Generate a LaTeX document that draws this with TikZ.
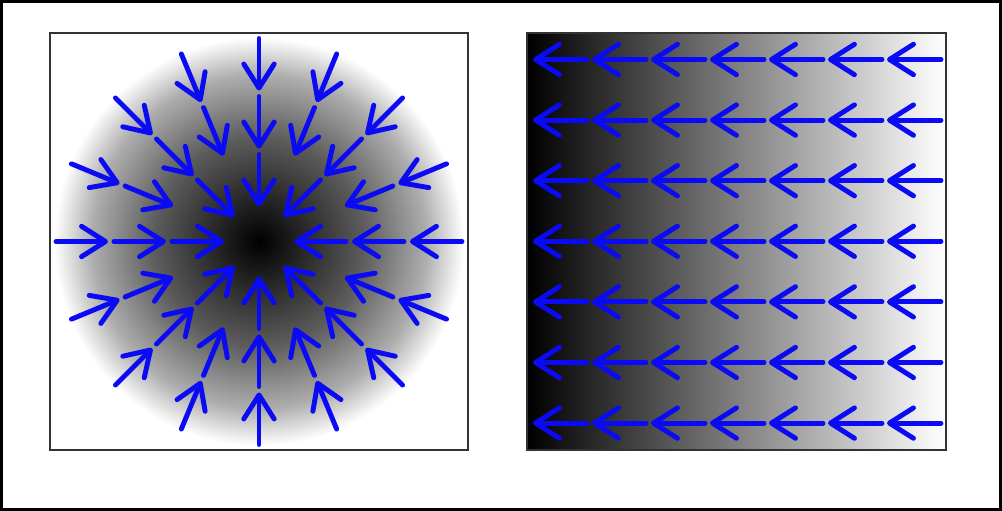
\documentclass[tikz,border=0pt]{standalone}
\usetikzlibrary{arrows.meta,calc}
\definecolor{fieldblue}{RGB}{10,10,245}
\pgfdeclareradialshading{sinkshade}{\pgfpoint{0bp}{0bp}}{color(0bp)=(black); color(12.5bp)=(black!64); color(20bp)=(black!32); color(24.5bp)=(white); color(50bp)=(white)}
\begin{document}
\begin{tikzpicture}[
  x=0.025cm, y=-0.025cm,
  panel/.style={draw=black!80, line width=1.7pt},
  vec/.style={fieldblue, line width=3.5pt, line cap=round,
    -{Straight Barb[round, length=0.6cm, width=0.76cm]}}
]
\useasboundingbox (0,0) rectangle (1002,511);
\draw[line width=1.5pt] (1.5,1.5) rectangle (1000.5,509.5);

%% left panel: sink with radial field
\shade[shading=sinkshade] (50,33) rectangle (468,450);
\draw[panel] (50,33) rectangle (468,450);
\coordinate (sink) at (259,241.5);

\foreach \a in {0,45,...,315}
  \foreach \r in {203,145,87}
    \draw[vec] ($(sink)+(\a:\r)$) -- ($(sink)+(\a:\r-52)$);
\foreach \a in {22.5,67.5,...,337.5}
  \foreach \r in {203,145}
    \draw[vec] ($(sink)+(\a:\r)$) -- ($(sink)+(\a:\r-52)$);

%% right panel: uniform field to the left
\shade[left color=black, right color=white] (527,33) rectangle (946,450);
\draw[panel] (527,33) rectangle (946,450);
\coordinate (origin) at (533,59.5);

\foreach \j in {0,...,6}
  \foreach \i in {0,...,6}
    \draw[vec] ($(origin)+(59*\i+54,60.6*\j)$) -- ($(origin)+(59*\i,60.6*\j)$);

\end{tikzpicture}
\end{document}
